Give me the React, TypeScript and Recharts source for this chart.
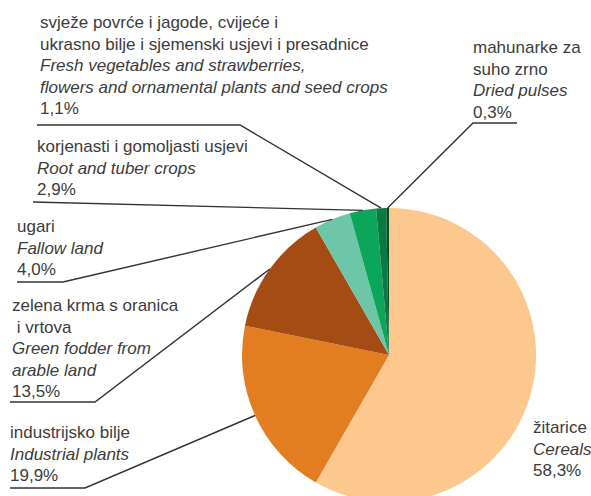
import React from 'react';
import { PieChart, Pie, Cell } from 'recharts';

// slices clockwise from 12 o'clock
const localNames = [
  'žitarice',
  'industrijsko bilje',
  'zelena krma s oranica\n i vrtova',
  'ugari',
  'korjenasti i gomoljasti usjevi',
  'svježe povrće i jagode, cvijeće i\nukrasno bilje i sjemenski usjevi i presadnice',
  'mahunarke za\nsuho zrno',
];
const englishNames = [
  'Cereals',
  'Industrial plants',
  'Green fodder from\narable land',
  'Fallow land',
  'Root and tuber crops',
  'Fresh vegetables and strawberries,\nflowers and ornamental plants and seed crops',
  'Dried pulses',
];
const shares = [58.3, 19.9, 13.5, 4.0, 2.9, 1.1, 0.3];

const sliceColors = ['#FCC88E', '#E27D22', '#A54B14', '#6DC6A8', '#0BA65A', '#0B7A40', '#064A28'];

// label block placement: text x, first baseline, leader line points (from free end to elbow)
const labelLayout = [
  { x: 533, y: 433, line: null },
  { x: 10, y: 438, line: [[10, 488], [85, 488]] },
  { x: 12, y: 311, line: [[10, 402], [95, 402]] },
  { x: 17, y: 232, line: [[17, 282], [63, 282]] },
  { x: 37, y: 152, line: [[33, 202]] },
  { x: 40, y: 28, line: [[37, 125], [240, 125]] },
  { x: 473, y: 53, line: [[517, 123], [473, 123]] },
];

const LINE_H = 21.5;
const RAD = Math.PI / 180;

const data = shares.map((v, i) => ({ name: englishNames[i], value: v }));

const renderLabel = (props: any) => {
  const { cx, cy, midAngle, outerRadius, index } = props;
  const lay = labelLayout[index];
  const ax = cx + outerRadius * Math.cos(-midAngle * RAD);
  const ay = cy + outerRadius * Math.sin(-midAngle * RAD);
  const lines: { t: string; italic: boolean }[] = [];
  localNames[index].split('\n').forEach((t) => lines.push({ t, italic: false }));
  englishNames[index].split('\n').forEach((t) => lines.push({ t, italic: true }));
  lines.push({ t: shares[index].toFixed(1).replace('.', ',') + '%', italic: false });
  let path = '';
  if (lay.line) {
    path = lay.line.map((p, k) => `${k === 0 ? 'M' : 'L'}${p[0]},${p[1]}`).join(' ') + ` L${ax},${ay}`;
  }
  return (
    <g key={`lbl-${index}`}>
      {path && <path d={path} fill="none" stroke="#333" strokeWidth={1.4} />}
      {lines.map((l, k) => (
        <text
          key={k}
          x={lay.x}
          y={lay.y + k * LINE_H}
          fill="#3c3c3c"
          fontSize={17}
          fontStyle={l.italic ? 'italic' : 'normal'}
          fontFamily="'Liberation Sans', Arial, sans-serif"
          style={{ whiteSpace: 'pre' }}
        >
          {l.t}
        </text>
      ))}
    </g>
  );
};

export default function App() {
  return (
    <div style={{ position: 'absolute', left: 0, top: 0, background: '#fff' }}>
      <PieChart width={591} height={496}>
        <Pie
          data={data}
          dataKey="value"
          cx={384}
          cy={350}
          outerRadius={147}
          startAngle={90}
          endAngle={-270}
          stroke="none"
          label={renderLabel}
          labelLine={false}
          isAnimationActive={false}
        >
          {data.map((d, i) => (
            <Cell key={d.name} fill={sliceColors[i]} />
          ))}
        </Pie>
      </PieChart>
    </div>
  );
}
